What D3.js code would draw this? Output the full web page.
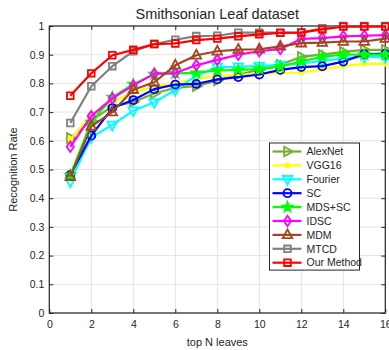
<!DOCTYPE html>
<html>
<head>
<meta charset="utf-8">
<script src="https://cdn.jsdelivr.net/npm/d3@7"></script>
<style>
  body { margin: 0; background: #fff; }
  svg { display: block; }
  text { font-family: "Liberation Sans", Arial, Helvetica, sans-serif; fill: #262626; }
</style>
</head>
<body>
<svg id="chart" width="389" height="350"></svg>
<script>
// Recognition rate versus the number of top retrieved leaves
const topN = d3.range(1, 17);

const alexNet    = [0.610, 0.670, 0.720, 0.735, 0.765, 0.785, 0.790, 0.810, 0.830, 0.848, 0.865, 0.893, 0.900, 0.910, 0.917, 0.917];
const vgg16      = [0.605, 0.690, 0.735, 0.770, 0.787, 0.802, 0.815, 0.826, 0.829, 0.833, 0.837, 0.838, 0.849, 0.861, 0.868, 0.868];
const fourier    = [0.458, 0.612, 0.655, 0.705, 0.734, 0.777, 0.827, 0.857, 0.858, 0.861, 0.864, 0.870, 0.878, 0.887, 0.893, 0.891];
const sc         = [0.481, 0.618, 0.714, 0.742, 0.780, 0.796, 0.798, 0.814, 0.822, 0.831, 0.847, 0.857, 0.860, 0.876, 0.902, 0.903];
const mdsSc      = [0.480, 0.665, 0.752, 0.797, 0.832, 0.835, 0.837, 0.845, 0.847, 0.850, 0.858, 0.877, 0.893, 0.900, 0.900, 0.900];
const idsc       = [0.579, 0.686, 0.748, 0.793, 0.834, 0.836, 0.863, 0.882, 0.900, 0.912, 0.920, 0.955, 0.958, 0.964, 0.966, 0.968];
const mdm        = [0.475, 0.650, 0.700, 0.778, 0.804, 0.863, 0.898, 0.912, 0.918, 0.919, 0.929, 0.940, 0.942, 0.946, 0.946, 0.956];
const mtcd       = [0.662, 0.790, 0.860, 0.912, 0.937, 0.952, 0.965, 0.966, 0.977, 0.977, 0.977, 0.978, 0.992, 1.000, 1.000, 1.000];
const ourMethod  = [0.757, 0.835, 0.898, 0.917, 0.937, 0.939, 0.951, 0.956, 0.964, 0.971, 0.976, 0.977, 0.988, 0.998, 0.998, 0.998];

const seriesNames = ["AlexNet", "VGG16", "Fourier", "SC", "MDS+SC", "IDSC", "MDM", "MTCD", "Our Method"];
const seriesValues = [alexNet, vgg16, fourier, sc, mdsSc, idsc, mdm, mtcd, ourMethod];

const xTicks = d3.range(0, 17, 2);
const yTicks = d3.range(0, 11).map(d => d / 10);

// styling per series: colour and marker
const styles = [
  { color: "#77AC30", marker: "triRight" },
  { color: "#FFFF00", marker: "asterisk" },
  { color: "#00FFFF", marker: "triDown" },
  { color: "#0000FF", marker: "circle" },
  { color: "#00FF00", marker: "star" },
  { color: "#FF00FF", marker: "diamond" },
  { color: "#A2461E", marker: "triUp" },
  { color: "#808080", marker: "square" },
  { color: "#FF0000", marker: "square" }
];

const series = seriesNames.map((name, i) => ({
  name,
  values: seriesValues[i].map((v, j) => ({ n: topN[j], v })),
  ...styles[i]
}));

const svg = d3.select("#chart");
const margin = { left: 49.3, right: 385.3, top: 26, bottom: 313 };

const x = d3.scaleLinear().domain([0, 16]).range([margin.left, margin.right]);
const y = d3.scaleLinear().domain([0, 1]).range([margin.bottom, margin.top]);

const axisColor = "#262626";
const gridColor = "#e3e3e3";

// grid
const grid = svg.append("g");
grid.selectAll("line.gx").data(xTicks).join("line")
  .attr("x1", d => x(d)).attr("x2", d => x(d))
  .attr("y1", margin.top).attr("y2", margin.bottom)
  .attr("stroke", gridColor).attr("stroke-width", 1);
grid.selectAll("line.gy").data(yTicks).join("line")
  .attr("y1", d => y(d)).attr("y2", d => y(d))
  .attr("x1", margin.left).attr("x2", margin.right)
  .attr("stroke", gridColor).attr("stroke-width", 1);

// axes with inward ticks
const fmtY = d => d3.format("~g")(d);
const gx = svg.append("g").attr("transform", `translate(0,${margin.bottom})`)
  .call(d3.axisBottom(x).tickValues(xTicks).tickSizeInner(-4).tickSizeOuter(0).tickPadding(8).tickFormat(d3.format("d")));
const gy = svg.append("g").attr("transform", `translate(${margin.left},0)`)
  .call(d3.axisLeft(y).tickValues(yTicks).tickSizeInner(-4).tickSizeOuter(0).tickPadding(5).tickFormat(fmtY));
const gt = svg.append("g").attr("transform", `translate(0,${margin.top})`)
  .call(d3.axisTop(x).tickValues(xTicks).tickSizeInner(-4).tickSizeOuter(0).tickFormat(""));
const gr = svg.append("g").attr("transform", `translate(${margin.right},0)`)
  .call(d3.axisRight(y).tickValues(yTicks).tickSizeInner(-4).tickSizeOuter(0).tickFormat(""));

[gx, gy, gt, gr].forEach(g => {
  g.select(".domain").remove();
  g.selectAll(".tick line").attr("stroke", axisColor);
  g.selectAll(".tick text").attr("font-size", 10.5).attr("fill", axisColor)
    .style("font-family", '"Liberation Sans", Arial, sans-serif');
});

svg.append("rect")
  .attr("x", margin.left).attr("y", margin.top)
  .attr("width", margin.right - margin.left).attr("height", margin.bottom - margin.top)
  .attr("fill", "none").attr("stroke", axisColor).attr("stroke-width", 1.2);

// marker paths
function markerPath(type) {
  switch (type) {
    case "circle": return d3.symbol(d3.symbolCircle, 50)();
    case "square": return d3.symbol(d3.symbolSquare, 44)();
    case "diamond": return "M0,-5.2L3.6,0L0,5.2L-3.6,0Z";
    case "star": return d3.symbol(d3.symbolStar, 38)();
    case "triUp": return "M0,-5.5L4.8,3.3L-4.8,3.3Z";
    case "triDown": return "M0,5.5L4.8,-3.3L-4.8,-3.3Z";
    case "triRight": return "M5.5,0L-3.3,4.8L-3.3,-4.8Z";
    case "asterisk": return "M-2.8,0H2.8M0,-2.8V2.8M-2,-2L2,2M-2,2L2,-2";
  }
}

const line = d3.line().x(d => x(d.n)).y(d => y(d.v));

const plot = svg.append("g");
series.forEach(s => {
  const g = plot.append("g");
  g.append("path").datum(s.values)
    .attr("d", line).attr("fill", "none")
    .attr("stroke", s.color).attr("stroke-width", 2.2).attr("stroke-linejoin", "round");
  g.selectAll("path.m").data(s.values).join("path").attr("class", "m")
    .attr("transform", d => `translate(${x(d.n)},${y(d.v)})`)
    .attr("d", markerPath(s.marker))
    .attr("fill", s.marker === "star" ? s.color : "none")
    .attr("stroke", s.color).attr("stroke-width", s.marker === "star" ? 1.2 : 1.8);
});

// title and axis labels
svg.append("text").attr("x", (margin.left + margin.right) / 2).attr("y", 19)
  .attr("text-anchor", "middle").attr("font-size", 14.5).text("Smithsonian Leaf dataset");
svg.append("text").attr("x", (margin.left + margin.right) / 2).attr("y", 346)
  .attr("text-anchor", "middle").attr("font-size", 11).text("top N leaves");
svg.append("text")
  .attr("transform", `translate(17,${(margin.top + margin.bottom) / 2}) rotate(-90)`)
  .attr("text-anchor", "middle").attr("font-size", 11).text("Recognition Rate");

// legend
const lg = svg.append("g");
const lgX = 269.5, lgY = 143, lgW = 90, rowH = 13.9;
lg.append("rect").attr("x", lgX).attr("y", lgY).attr("width", lgW).attr("height", rowH * series.length + 2)
  .attr("fill", "#fff").attr("stroke", axisColor).attr("stroke-width", 1);
series.forEach((s, i) => {
  const cy = lgY + 8.5 + i * rowH;
  lg.append("line").attr("x1", lgX + 3).attr("x2", lgX + 32).attr("y1", cy).attr("y2", cy)
    .attr("stroke", s.color).attr("stroke-width", 2.2);
  lg.append("path").attr("transform", `translate(${lgX + 18},${cy})`)
    .attr("d", markerPath(s.marker))
    .attr("fill", s.marker === "star" ? s.color : "none")
    .attr("stroke", s.color).attr("stroke-width", s.marker === "star" ? 1.2 : 1.8);
  lg.append("text").attr("x", lgX + 37).attr("y", cy + 3.7).attr("font-size", 10.5).text(s.name);
});
</script>
</body>
</html>
